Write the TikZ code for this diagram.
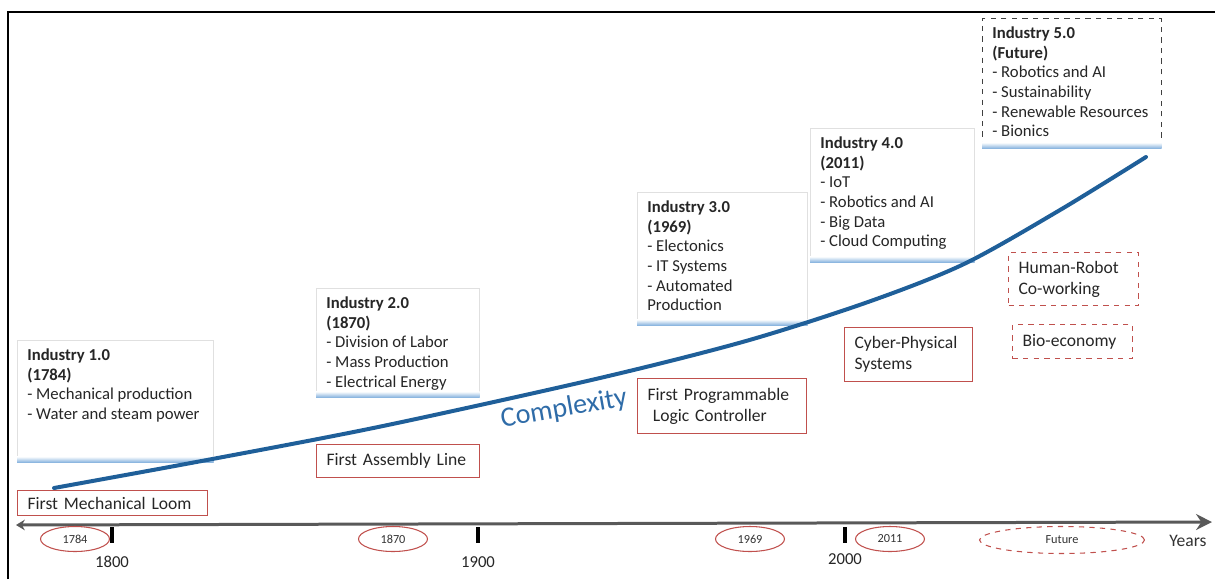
\documentclass[tikz,border=0pt]{standalone}
\usepackage{fontspec}
\setmainfont{Carlito}
\usetikzlibrary{positioning,arrows.meta,shapes.geometric}

\definecolor{boxred}{HTML}{C0504D}
\definecolor{curveblue}{HTML}{1F5F99}
\definecolor{cplxblue}{HTML}{2F6CA8}
\definecolor{axisgray}{HTML}{595959}
\definecolor{glowblue}{HTML}{7FAEDC}

\tikzset{
  infobox/.style={draw=black!12, fill=white, anchor=north west, inner sep=0pt},
  infotext/.style={align=left, inner sep=0pt, text=black!85, font=\fontsize{9.5}{11.2}\selectfont},
  milestone/.style={draw=boxred, line width=0.7pt, anchor=north west, align=left, inner xsep=0.2cm, inner ysep=0pt, text=black!85, font=\fontsize{10}{12}\selectfont},
  yearmark/.style={draw=boxred, ellipse, line width=0.6pt, minimum width=1.38cm, minimum height=0.5cm, inner sep=0pt, text=black!80, font=\fontsize{7}{8}\selectfont},
  glow/.style={top color=white, bottom color=glowblue},
  curve/.style={curveblue, line width=0.08cm, line cap=round},
  axis/.style={axisgray, line width=0.06cm, {Stealth[length=5pt,width=6pt]}-{Stealth[length=9pt,width=9pt]}},
  tick/.style={black, line width=0.08cm}
}

\begin{document}
\begin{tikzpicture}[x=0.02cm, y=-0.02cm]
    \useasboundingbox (0,0) rectangle (1215,579);
    % frame
    \draw[line width=0.05cm] (8,579) |- (1215,12);

    % industry boxes
    \node[infobox, minimum width=3.92cm, minimum height=2.44cm] (i1) at (17,340) {};
    \node[infobox, minimum width=3.26cm, minimum height=2.18cm] (i2) at (316,288) {};
    \node[infobox, minimum width=3.4cm, minimum height=2.66cm] (i3) at (637,192) {};
    \node[infobox, minimum width=3.28cm, minimum height=2.68cm] (i4) at (810,128) {};
    \node[infobox, draw=black!75, dashed, minimum width=3.58cm, minimum height=2.6cm] (i5) at (982,18) {};
    \foreach \n in {i1,i2,i3,i4,i5}
        \shade[glow] ([yshift=3.5pt]\n.south west) rectangle (\n.south east);

    \node[infotext, below right=0.17cm and 0.2cm of i1.north west] (t1)
        {\textbf{Industry 1.0}\\\textbf{(1784)}\\- Mechanical production\\- Water and steam power};
    \node[infotext, below right=0.17cm and 0.2cm of i2.north west] (t2)
        {\textbf{Industry 2.0}\\\textbf{(1870)}\\- Division of Labor\\- Mass Production\\- Electrical Energy};
    \node[infotext, below right=0.17cm and 0.2cm of i3.north west] (t3)
        {\textbf{Industry 3.0}\\\textbf{(1969)}\\- Electonics\\- IT Systems\\- Automated\\Production};
    \node[infotext, below right=0.17cm and 0.2cm of i4.north west] (t4)
        {\textbf{Industry 4.0}\\\textbf{(2011)}\\- IoT\\- Robotics and AI\\- Big Data\\- Cloud Computing};
    \node[infotext, below right=0.17cm and 0.2cm of i5.north west] (t5)
        {\textbf{Industry 5.0}\\\textbf{(Future)}\\- Robotics and AI\\- Sustainability\\- Renewable Resources\\- Bionics};

    % milestones
    \node[milestone, text width=3.4cm, minimum height=0.5cm] (loom) at (17,490) {First Mechanical Loom};
    \node[milestone, text width=2.86cm, minimum height=0.66cm] (assembly) at (316,444) {First Assembly Line};
    \node[milestone, text width=2.98cm, minimum height=1.1cm] (plc) at (637,378) {First Programmable\\\hspace{3pt}Logic Controller};
    \node[milestone, text width=2.16cm, minimum height=1.08cm] (cps) at (844,327) {Cyber-Physical\\Systems};
    \node[milestone, dashed, text width=2.2cm, minimum height=1.06cm] (hrc) at (1008,252) {Human-Robot\\Co-working};
    \node[milestone, dashed, text width=2.0cm, minimum height=0.68cm] (bio) at (1012,324) {Bio-economy};

    % complexity curve
    \draw[curve] plot[smooth] coordinates {(54,488) (207,460) (383,426) (600,378) (746,341) (868,302) (964,264) (1060,210) (1146,157)};
    \node[rotate=10, text=cplxblue, font=\fontsize{16}{19}\selectfont] (cplx) at (564,409) {Complexity};

    % time axis
    \coordinate (axL) at (16,525);
    \coordinate (axR) at (1212,522);
    \draw[axis] (axL) -- (axR);
    \foreach \x/\yy/\yr in {112/562/1800, 478/562/1900, 845/559/2000} {
        \draw[tick] (\x,527) -- (\x,543);
        \node[font=\fontsize{9.5}{11}\selectfont, text=black!85] (y\yr) at (\x,\yy) {\yr};
    }
    \foreach \x/\yr in {75/1784, 393/1870, 750/1969, 890/2011}
        \node[yearmark] (e\yr) at (\x,539) {\yr};
    \node[yearmark, dashed, minimum width=3.3cm, minimum height=0.54cm] (efut) at (1062,540) {Future};
    \node[font=\fontsize{10}{12}\selectfont, text=black!80] (years) at (1188,541) {Years};
\end{tikzpicture}
\end{document}
